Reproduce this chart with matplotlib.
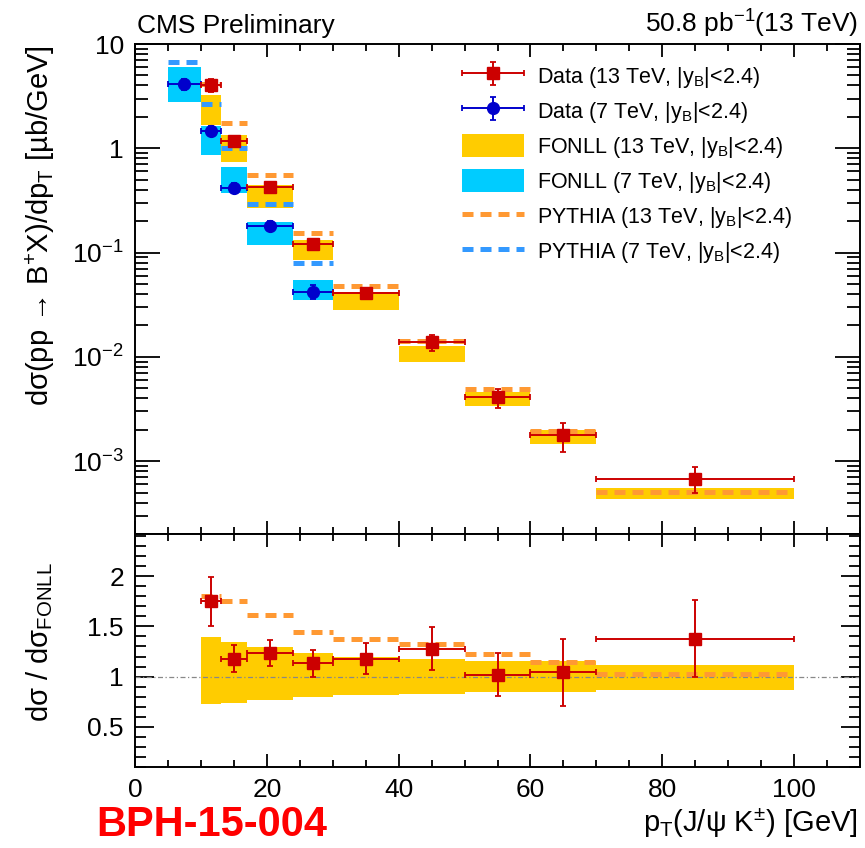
import numpy as np
import matplotlib
matplotlib.use('Agg')
from matplotlib import pyplot as plt
from matplotlib.patches import Patch
from matplotlib.lines import Line2D
from matplotlib.container import ErrorbarContainer
from matplotlib.legend_handler import HandlerErrorbar
from matplotlib.ticker import MultipleLocator, LogLocator, FuncFormatter, NullFormatter

plt.rcParams['font.family'] = ['Liberation Sans', 'DejaVu Sans']
plt.rcParams['mathtext.fontset'] = 'custom'
plt.rcParams['mathtext.rm'] = 'Liberation Sans'
plt.rcParams['mathtext.it'] = 'Liberation Sans:italic'
plt.rcParams['mathtext.bf'] = 'Liberation Sans:bold'
plt.rcParams['mathtext.sf'] = 'Liberation Sans'
plt.rcParams['mathtext.fallback'] = 'stixsans'

# pT bin edges [GeV]
edges13 = np.array([10, 13, 17, 24, 30, 40, 50, 60, 70, 100])
edges7 = np.array([5, 10, 13, 17, 24, 30])

# 13 TeV: data, FONLL (central + band as fraction of central), PYTHIA  [ub/GeV]
data13 = np.array([4.04, 1.18, 0.427, 0.121, 0.0407, 0.0138, 0.00408, 0.00177, 0.00068])
data13_err = np.array([0.57, 0.13, 0.045, 0.014, 0.0052, 0.0023, 0.00085, 0.00056, 0.00019])
fonll13 = np.array([2.31, 1.00, 0.347, 0.107, 0.0345, 0.0108, 0.0040, 0.0017, 0.000494])
fonll13_lo = np.array([0.73, 0.74, 0.77, 0.80, 0.82, 0.83, 0.85, 0.85, 0.87])
fonll13_hi = np.array([1.39, 1.34, 1.29, 1.24, 1.20, 1.18, 1.16, 1.16, 1.12])
pythia13 = np.array([4.16, 1.75, 0.559, 0.155, 0.0473, 0.01426, 0.00492, 0.00194, 0.000509])

# 7 TeV
data7 = np.array([4.15, 1.48, 0.42, 0.18, 0.0423])
data7_err = np.array([0.5, 0.17, 0.045, 0.02, 0.0065])
fonll7_lo = np.array([2.76, 0.87, 0.374, 0.119, 0.0347])
fonll7_hi = np.array([6.0, 1.62, 0.665, 0.198, 0.054])
pythia7 = np.array([6.7, 2.67, 1.0, 0.29, 0.080])

c13 = 0.5 * (edges13[:-1] + edges13[1:])
w13 = np.diff(edges13)
c7 = 0.5 * (edges7[:-1] + edges7[1:])
w7 = np.diff(edges7)

YELLOW = '#FFCC00'
CYAN = '#00CCFF'
ORANGE = '#FF9933'
LBLUE = '#3399FF'
RED = '#CC0000'
BLUE = '#0000CC'
DASH = (0, (2.2, 1.4))

fig = plt.figure(figsize=(8.65, 8.48), dpi=100)
ax1 = fig.add_axes([135/865, 1-534/848, 725/865, 490/848])
ax2 = fig.add_axes([135/865, 1-767/848, 725/865, 233/848], sharex=ax1)

# ---- upper panel: cross sections
ax1.bar(edges7[:-1], fonll7_hi - fonll7_lo, bottom=fonll7_lo, width=w7,
        align='edge', color=CYAN, lw=0, zorder=1)
ax1.bar(edges13[:-1], fonll13 * (fonll13_hi - fonll13_lo), bottom=fonll13 * fonll13_lo,
        width=w13, align='edge', color=YELLOW, lw=0, zorder=1)
ax1.hlines(pythia7, edges7[:-1], edges7[1:], colors=LBLUE, linestyles=DASH, lw=3.6, zorder=2)
ax1.hlines(pythia13, edges13[:-1], edges13[1:], colors=ORANGE, linestyles=DASH, lw=3.6, zorder=2)
eb7 = ax1.errorbar(c7, data7, xerr=w7/2, yerr=data7_err, fmt='o', color=BLUE, ms=8.5,
                   elinewidth=1.4, capsize=2, capthick=1.3, zorder=4)
eb13 = ax1.errorbar(c13, data13, xerr=w13/2, yerr=data13_err, fmt='s', color=RED, ms=9,
                    elinewidth=1.4, capsize=2.5, capthick=1.3, zorder=5)

ax1.set_yscale('log')
ax1.set_ylim(2e-4, 10)
ax1.set_xlim(0, 110)


def logfmt(v, pos):
    e = int(round(np.log10(v)))
    if e == 0:
        return '1'
    if e == 1:
        return '10'
    return '$10^{%d}$' % e


ax1.yaxis.set_major_locator(LogLocator(base=10, numticks=10))
ax1.yaxis.set_minor_locator(LogLocator(base=10, subs=np.arange(2, 10) * 1.0, numticks=20))
ax1.yaxis.set_major_formatter(FuncFormatter(logfmt))
ax1.yaxis.set_minor_formatter(NullFormatter())

labels = ['Data (13 TeV, |y$_{\\rm B}$|<2.4)', 'Data (7 TeV, |y$_{\\rm B}$|<2.4)',
          'FONLL (13 TeV, |y$_{\\rm B}$|<2.4)', 'FONLL (7 TeV, |y$_{\\rm B}$|<2.4)',
          'PYTHIA (13 TeV, |y$_{\\rm B}$|<2.4)', 'PYTHIA (7 TeV, |y$_{\\rm B}$|<2.4)']
handles = [eb13, eb7, Patch(color=YELLOW, lw=0), Patch(color=CYAN, lw=0),
           Line2D([], [], color=ORANGE, ls=DASH, lw=3.6),
           Line2D([], [], color=LBLUE, ls=DASH, lw=3.6)]
ax1.legend(handles, labels, loc='upper left', bbox_to_anchor=(0.451, 0.959), frameon=False,
           fontsize=15.5, handlelength=2.9, handleheight=1.25, handletextpad=0.6,
           labelspacing=0.44, borderpad=0, borderaxespad=0,
           handler_map={ErrorbarContainer: HandlerErrorbar(xerr_size=1.45, yerr_size=0.55)})

# ---- lower panel: ratio to FONLL
ax2.bar(edges13[:-1], fonll13_hi - fonll13_lo, bottom=fonll13_lo, width=w13,
        align='edge', color=YELLOW, lw=0, zorder=1)
ax2.axhline(1, color='#888888', lw=0.9, ls=(0, (4, 2, 1, 2)), zorder=2)
ax2.hlines(pythia13 / fonll13, edges13[:-1], edges13[1:], colors=ORANGE,
           linestyles=DASH, lw=3.6, zorder=3)
ax2.errorbar(c13, data13 / fonll13, xerr=w13/2, yerr=data13_err / fonll13, fmt='s',
             color=RED, ms=9, elinewidth=1.4, capsize=2.5, capthick=1.3, zorder=5)
ax2.set_ylim(0.1, 2.42)
ax2.yaxis.set_major_locator(MultipleLocator(0.5))
ax2.yaxis.set_minor_locator(MultipleLocator(0.1))
ax2.yaxis.set_major_formatter(FuncFormatter(lambda v, p: '%g' % v))
ax2.xaxis.set_major_locator(MultipleLocator(20))
ax2.xaxis.set_minor_locator(MultipleLocator(5))

for ax in (ax1, ax2):
    for s in ax.spines.values():
        s.set_linewidth(1.4)
    ax.tick_params(which='both', direction='in', top=True, right=True, width=1.3,
                   labelsize=19, pad=8)
    ax.tick_params(axis='x', which='major', length=9.5)
    ax.tick_params(axis='x', which='minor', length=5)
ax1.tick_params(axis='y', which='major', length=18)
ax1.tick_params(axis='y', which='minor', length=9.5)
ax2.tick_params(axis='y', which='major', length=14)
ax2.tick_params(axis='y', which='minor', length=8)
ax1.tick_params(labelbottom=False)

# ---- texts
fig.text(137/865, 1-33/848, 'CMS Preliminary', fontsize=19, va='baseline')
fig.text(858/865, 1-33/848, '50.8 pb$^{-1}$(13 TeV)', fontsize=19, ha='right', va='baseline')
fig.text(0.046, 1-45/848, 'dσ(pp → B$^{+}$X)/dp$_{\\rm T}$ [µb/GeV]', rotation=90,
         ha='center', va='top', fontsize=21)
fig.text(0.046, 1-562/848, 'dσ / dσ$_{\\rm FONLL}$', rotation=90, ha='center', va='top',
         fontsize=21)
fig.text(858/865, 1-832/848, 'p$_{\\rm T}$(J/ψ K$^{\\pm}$) [GeV]', ha='right', va='baseline',
         fontsize=21)
fig.text(96/865, 1-836/848, 'BPH-15-004', color='#FF0000', fontsize=30, fontweight='bold',
         va='baseline')

plt.savefig('out.png', dpi=100)
